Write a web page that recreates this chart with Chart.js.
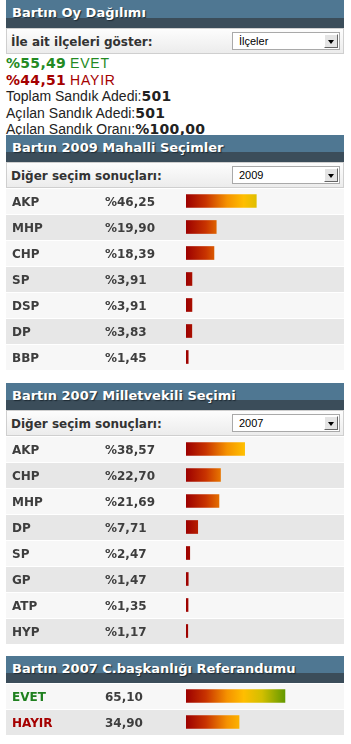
<!DOCTYPE html>
<html>

<head>
    <title>Bartın Oy Dağılımı</title>
    <script src="https://cdn.jsdelivr.net/npm/chart.js"></script>
    <style>
        body { margin: 0; background: #fff; font-family: "Liberation Sans", Arial, sans-serif; }
        .box { position: absolute; left: 6px; width: 338px; }
        .head {
            height: 27px; color: #fff; font: bold 13px "DejaVu Sans", Verdana, sans-serif;
            line-height: 26px; padding-left: 6px; box-sizing: border-box;
            text-shadow: 1px 1px 1px #1e2a33;
            background: linear-gradient(to bottom, #4f7792 0, #4f7792 63%, #3b4d5a 63%, #3b4d5a 100%);
        }
        .sel {
            height: 26px; border: 1px solid #cfcfcf; box-sizing: border-box;
            background: linear-gradient(to bottom, #fdfdfd, #ececec);
            font: bold 12px "DejaVu Sans", Verdana, sans-serif; color: #333;
            line-height: 26px; padding-left: 4px; position: relative;
        }
        .dd {
            position: absolute; left: 225px; top: 3px; width: 108px; height: 18px;
            background: #fff; border: 1px solid #a9a9a9; box-sizing: border-box;
            font: normal 11px "Liberation Sans", Arial, sans-serif; color: #000;
            line-height: 16px; padding-left: 6px;
        }
        .dd span {
            position: absolute; right: 1px; top: 1px; width: 14px; height: 14px;
            background: #e4e4e4; border-left: 1px solid #fff; border-top: 1px solid #fff;
            border-right: 1px solid #666; border-bottom: 1px solid #666; box-sizing: border-box;
        }
        .dd span:after {
            content: ""; position: absolute; left: 3px; top: 5px;
            border-left: 3px solid transparent; border-right: 3px solid transparent; border-top: 4px solid #000;
        }
        .info { font-size: 14px; line-height: 16.5px; color: #222; padding-top: 1px; }
        .info > div { height: 16.5px; }
        .info b { font-family: "DejaVu Sans", Verdana, sans-serif; font-weight: bold; font-size: 14px; letter-spacing: 0.3px; }
        .info .w { letter-spacing: 0.8px; }
        .g { color: #238a23; }
        .r { color: #a50000; }
    </style>
</head>

<body>
    <!-- Üst özet -->
    <div class="box" style="top:0">
        <div class="head" style="height:28px">Bartın Oy Dağılımı</div>
        <div class="sel">İle ait ilçeleri göster:<div class="dd">İlçeler<span></span></div></div>
        <div class="info">
            <div class="g"><b>%55,49</b> <span class="w">EVET</span></div>
            <div class="r"><b>%44,51</b> <span class="w">HAYIR</span></div>
            <div>Toplam Sandık Adedi:<b>501</b></div>
            <div>Açılan Sandık Adedi:<b>501</b></div>
            <div>Açılan Sandık Oranı:<b>%100,00</b></div>
        </div>
    </div>

    <div class="box" style="top:135px">
        <div class="head">Bartın 2009 Mahalli Seçimler</div>
        <div class="sel">Diğer seçim sonuçları:<div class="dd">2009<span></span></div></div>
        <canvas id="c2009" width="338" height="182"></canvas>
    </div>

    <div class="box" style="top:383px">
        <div class="head">Bartın 2007 Milletvekili Seçimi</div>
        <div class="sel">Diğer seçim sonuçları:<div class="dd">2007<span></span></div></div>
        <canvas id="c2007" width="338" height="208"></canvas>
    </div>

    <div class="box" style="top:656px">
        <div class="head">Bartın 2007 C.başkanlığı Referandumu</div>
        <canvas id="cref" width="338" height="52"></canvas>
    </div>

    <script>
        // 2009 yerel seçim
        const parties2009 = ['AKP', 'MHP', 'CHP', 'SP', 'DSP', 'DP', 'BBP'];
        const votes2009 = [46.25, 19.90, 18.39, 3.91, 3.91, 3.83, 1.45];

        // 2007 genel seçim
        const parties2007 = ['AKP', 'CHP', 'MHP', 'DP', 'SP', 'GP', 'ATP', 'HYP'];
        const votes2007 = [38.57, 22.70, 21.69, 7.71, 2.47, 1.47, 1.35, 1.17];

        // 2007 referandum
        const refLabels = ['EVET', 'HAYIR'];
        const refVotes = [65.10, 34.90];
        const refColors = ['#1f801f', '#a50000'];

        function fmt(v) {
            return v.toFixed(2).replace('.', ',');
        }

        // bar rengi: kırmızıdan yeşile tek bir gradyan
        function barGradient(c) {
            const chart = c.chart;
            if (!chart.chartArea) return '#a00000';
            const x = chart.scales.x;
            const g = chart.ctx.createLinearGradient(x.getPixelForValue(0), 0, x.getPixelForValue(100), 0);
            g.addColorStop(0, '#9c0000');
            g.addColorStop(0.13, '#c83300');
            g.addColorStop(0.27, '#f59200');
            g.addColorStop(0.38, '#ffbe00');
            g.addColorStop(0.50, '#d2bf00');
            g.addColorStop(0.65, '#659a00');
            g.addColorStop(1, '#659a00');
            return g;
        }

        // satır arka planları ve yazılar
        const rowPlugin = {
            id: 'rows',
            beforeDatasetsDraw(chart, args, opts) {
                const ctx = chart.ctx;
                const y = chart.scales.y;
                const w = chart.width;
                ctx.save();
                chart.data.labels.forEach((lab, i) => {
                    const cy = y.getPixelForValue(i);
                    ctx.fillStyle = i % 2 ? '#e7e7e7' : '#f7f7f7';
                    ctx.fillRect(0, cy - 12, w, 25);
                    ctx.font = 'bold 12px "DejaVu Sans", Verdana, sans-serif';
                    ctx.textBaseline = 'middle';
                    ctx.fillStyle = opts.colors ? opts.colors[i] : '#3e3e3e';
                    ctx.fillText(lab, 6, cy + 2);
                    ctx.fillStyle = '#3e3e3e';
                    ctx.fillText(opts.prefix + fmt(chart.data.datasets[0].data[i]), 99, cy + 2);
                });
                ctx.restore();
            }
        };

        function drawSection(id, labels, values, prefix, colors) {
            new Chart(document.getElementById(id).getContext('2d'), {
                type: 'bar',
                data: {
                    labels: labels,
                    datasets: [{ data: values, backgroundColor: barGradient, barThickness: 13, borderWidth: 0 }]
                },
                options: {
                    indexAxis: 'y',
                    responsive: false,
                    animation: false,
                    layout: { padding: { left: 180, right: 6, top: 0, bottom: 0 } },
                    scales: {
                        x: { min: 0, max: 100, display: false },
                        y: { display: false }
                    },
                    plugins: {
                        legend: { display: false },
                        tooltip: { enabled: false },
                        rows: { prefix: prefix, colors: colors }
                    }
                },
                plugins: [rowPlugin]
            });
        }

        drawSection('c2009', parties2009, votes2009, '%');
        drawSection('c2007', parties2007, votes2007, '%');
        drawSection('cref', refLabels, refVotes, '', refColors);
    </script>
</body>

</html>
